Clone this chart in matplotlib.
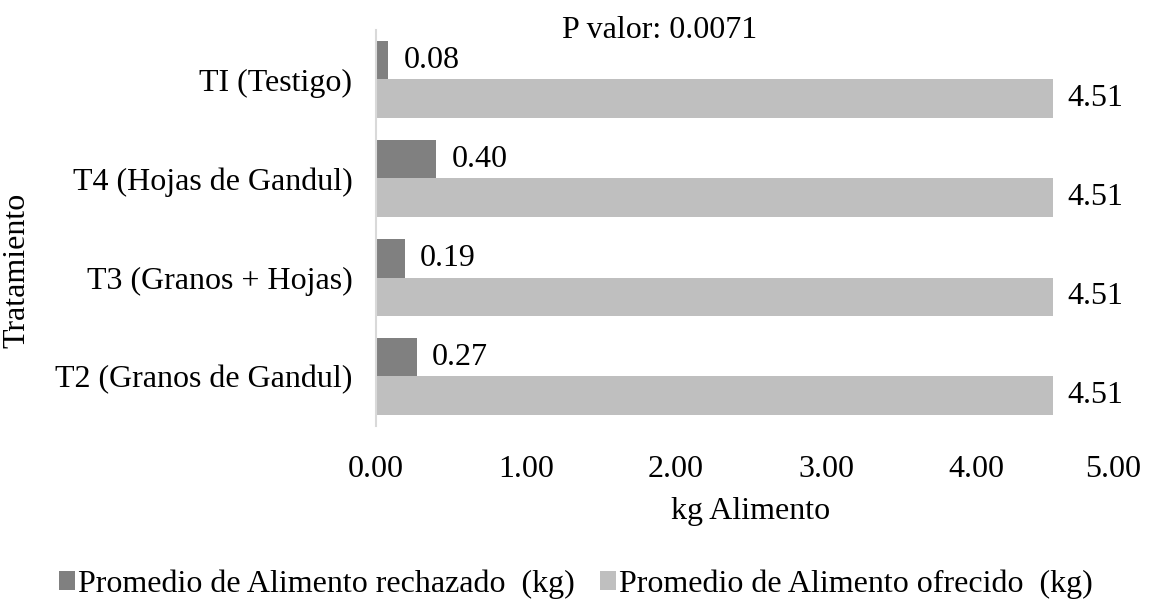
import matplotlib.pyplot as plt
import matplotlib.transforms as mtransforms
import numpy as np

plt.rcParams['font.family'] = ['Liberation Serif', 'DejaVu Serif']

categorias = ['T2 (Granos de Gandul)', 'T3 (Granos + Hojas)',
              'T4 (Hojas de Gandul)', 'TI (Testigo)']
rechazado = [0.27, 0.19, 0.40, 0.08]
ofrecido = [4.51, 4.51, 4.51, 4.51]
series = ['Promedio de Alimento rechazado  (kg)',
          'Promedio de Alimento ofrecido  (kg)']
colores = ['#808080', '#bfbfbf']

fs = 23
fig = plt.figure(figsize=(11.52, 6), dpi=100)
ax = fig.add_axes([376 / 1152, 1 - 426 / 600, 750 / 1152, 396 / 600])

y = np.arange(len(categorias))
h = 0.384
b1 = ax.barh(y + h / 2, rechazado, height=h, color=colores[0], label=series[0])
b2 = ax.barh(y - h / 2, ofrecido, height=h, color=colores[1], label=series[1])

for bars, vals in ((b1, rechazado), (b2, ofrecido)):
    for bar, v in zip(bars, vals):
        ax.annotate(f'{v:.2f}', (bar.get_width(), bar.get_y() + bar.get_height() / 2),
                    xytext=(11, 0), textcoords='offset points',
                    va='center', ha='left', fontsize=fs)

ax.set_xlim(0, 5)
ax.set_ylim(-0.5, len(categorias) - 0.5)
ax.set_xticks(np.arange(0, 5.01, 1))
ax.set_xticklabels([f'{t:.2f}' for t in np.arange(0, 5.01, 1)], fontsize=fs)
ax.set_yticks(y)
ax.set_yticklabels(categorias, fontsize=fs)
ax.tick_params(axis='both', length=0)
ax.tick_params(axis='x', pad=21)
ax.tick_params(axis='y', pad=17)
for s in ('top', 'right', 'bottom'):
    ax.spines[s].set_visible(False)
ax.spines['left'].set_color('#d9d9d9')
ax.spines['left'].set_linewidth(1.5)

# last tick label pulled inward so it stays on the canvas
last = ax.get_xticklabels()[-1]
last.set_transform(last.get_transform() +
                   mtransforms.ScaledTranslation(-0.13, 0, fig.dpi_scale_trans))

fig.text(751 / 1152, 1 - 511 / 600, 'kg Alimento', ha='center', va='center', fontsize=fs)
fig.text(17 / 1152, 1 - 270 / 600, 'Tratamiento', ha='center', va='center',
         rotation=90, fontsize=fs)
fig.text(660 / 1152, 1 - 30 / 600, 'P valor: 0.0071', ha='center', va='center', fontsize=fs)

fig.legend(handles=[b1, b2], labels=series, loc='center',
           bbox_to_anchor=(0.5, 1 - 584 / 600), ncol=2, frameon=False,
           fontsize=fs, handlelength=0.5, handleheight=0.5, handletextpad=0.1,
           columnspacing=0.8)

fig.savefig('out.png', dpi=100)
